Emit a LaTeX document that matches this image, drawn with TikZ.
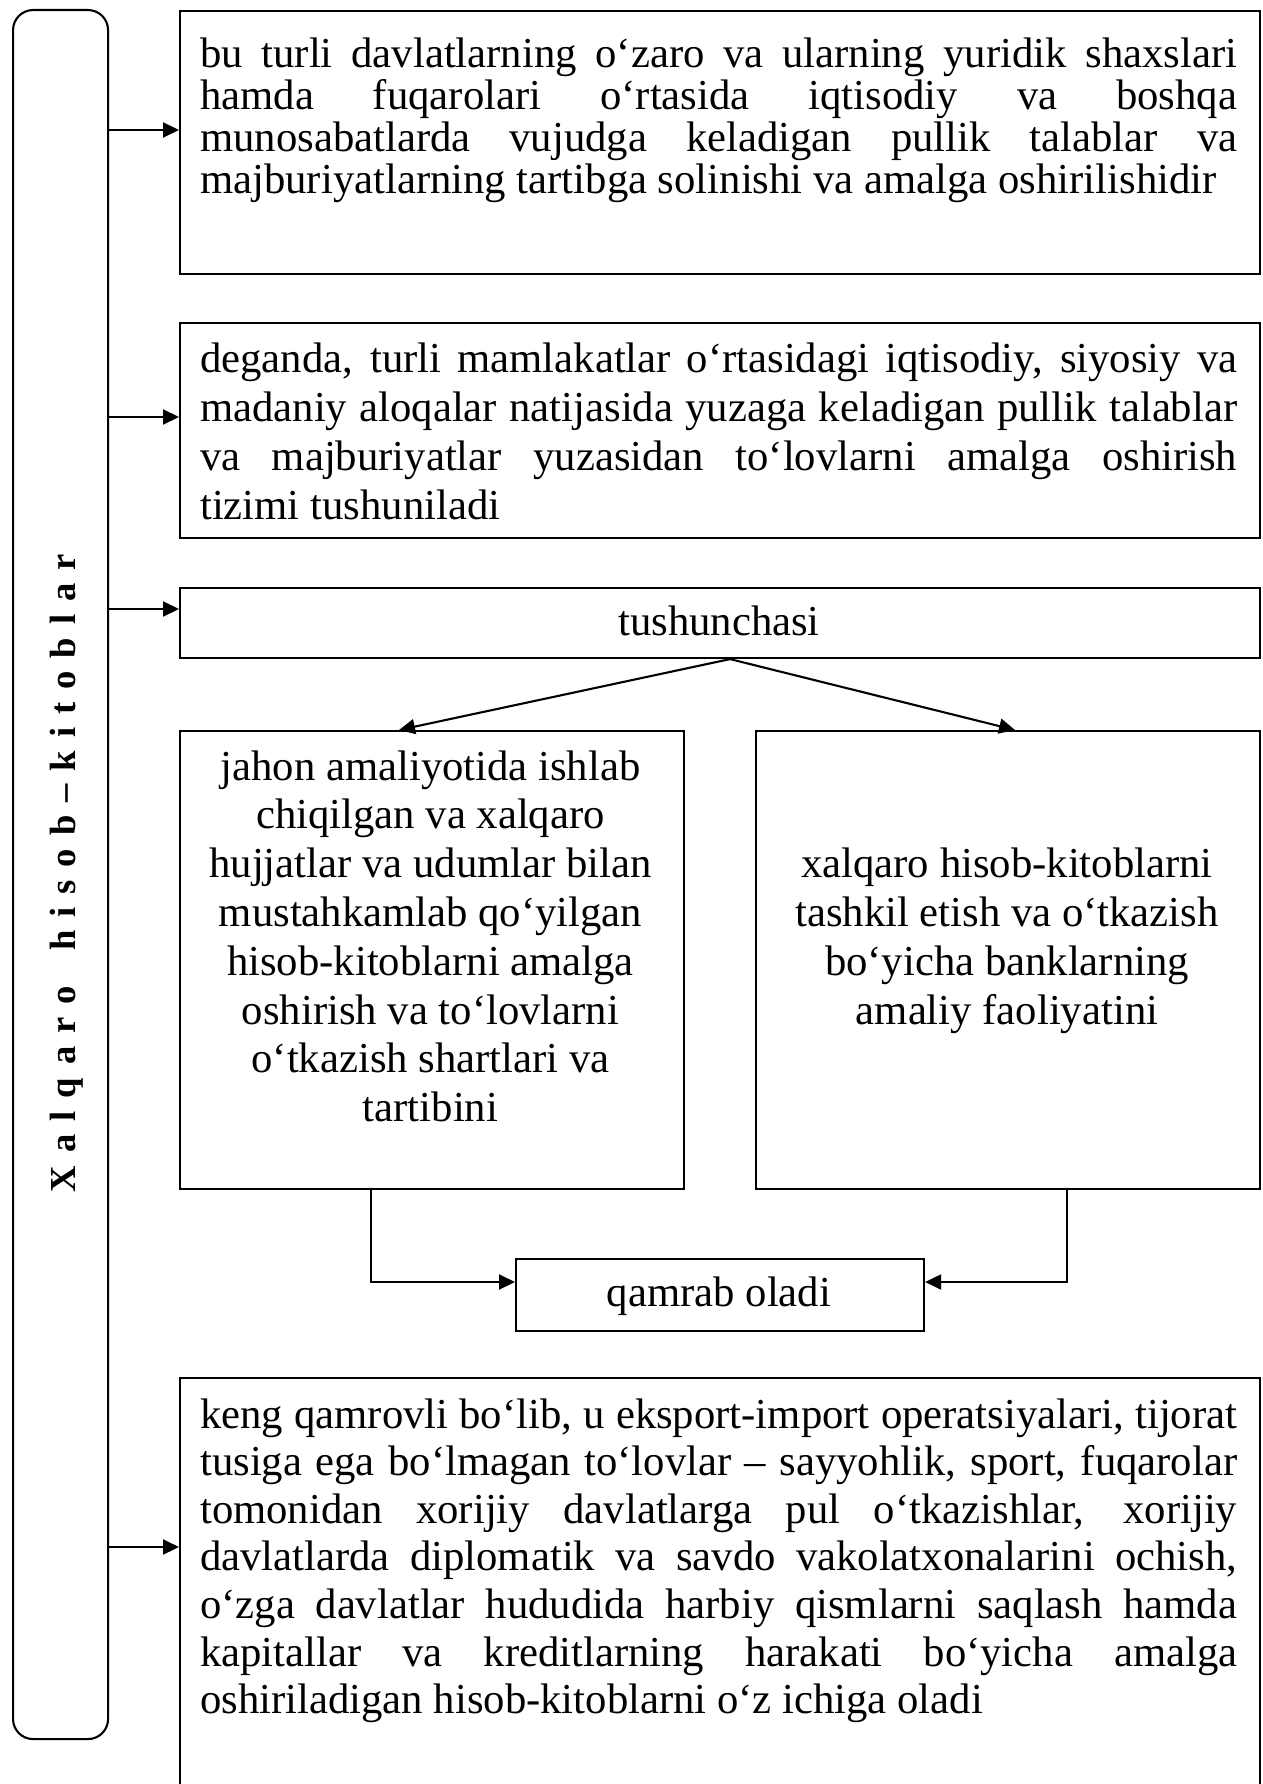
\documentclass[tikz,border=0pt]{standalone}
\usepackage{fontspec}
\setmainfont{Liberation Serif}
\usetikzlibrary{arrows.meta}
\newcommand{\jl}[1]{\makebox[\linewidth][s]{#1}\\}
\newcommand{\ts}{\kern13pt}
\begin{document}
\begin{tikzpicture}[x=1pt,y=-1pt,
  box/.style={draw, line width=2.1pt, rectangle, inner sep=0pt, anchor=north west},
  txt/.style={inner sep=0pt, font=\fontsize{42.7}{48.7}\selectfont},
  conn/.style={line width=2.1pt, -{Triangle[length=16pt,width=15pt]}}]
\useasboundingbox (0,0) rectangle (1262,1784);
\clip (0,0) rectangle (1262,1784);
% boxes
\node[box, rounded corners=20pt, minimum width=95pt, minimum height=1729pt] (main) at (12,9) {};
\node[box, minimum width=1080pt, minimum height=263pt] (b1) at (179,10) {};
\node[box, minimum width=1080pt, minimum height=215pt] (b2) at (179,322) {};
\node[box, minimum width=1080pt, minimum height=70pt] (tb) at (179,587) {};
\node[box, minimum width=504pt, minimum height=458pt] (lb) at (179,730) {};
\node[box, minimum width=504pt, minimum height=458pt] (rb) at (755,730) {};
\node[box, minimum width=408pt, minimum height=72pt] (qb) at (515,1258) {};
\node[box, minimum width=1080pt, minimum height=480pt] (bb) at (179,1377) {};
% title
\node[inner sep=0pt, anchor=base, rotate=90, font=\bfseries\fontsize{36.6}{40}\selectfont] (title) at (75,873)
 {X\ts a\ts l\ts q\ts a\ts r\ts o\ts\ \ts h\ts i\ts s\ts o\ts b\ts –\ts k\ts i\ts t\ts o\ts b\ts l\ts a\ts r};
% texts
\node[txt, anchor=base west] (t1) at (200,68) {\parbox[t]{1037pt}{\fontsize{42.7}{41.7}\selectfont
\jl{bu turli davlatlarning o‘zaro va ularning yuridik shaxslari}
\jl{hamda fuqarolari o‘rtasida iqtisodiy va boshqa}
\jl{munosabatlarda vujudga keladigan pullik talablar va}
majburiyatlarning tartibga solinishi va amalga oshirilishidir}};
\node[txt, anchor=base west] (t2) at (200,372) {\parbox[t]{1037pt}{\fontsize{42.7}{49}\selectfont
\jl{deganda, turli mamlakatlar o‘rtasidagi iqtisodiy, siyosiy va}
\jl{madaniy aloqalar natijasida yuzaga keladigan pullik talablar}
\jl{va majburiyatlar yuzasidan to‘lovlarni amalga oshirish}
tizimi tushuniladi}};
\node[txt, anchor=base] (t3) at (719,635) {tushunchasi};
\node[txt, anchor=base] (t4) at (430.5,780) {\parbox[t]{496pt}{\centering\fontsize{42.7}{48.8}\selectfont
jahon amaliyotida ishlab\\
chiqilgan va xalqaro\\
hujjatlar va udumlar bilan\\
mustahkamlab qo‘yilgan\\
hisob-kitoblarni amalga\\
oshirish va to‘lovlarni\\
o‘tkazish shartlari va\\
tartibini}};
\node[txt, anchor=base] (t5) at (1007,877) {\parbox[t]{496pt}{\centering\fontsize{42.7}{49}\selectfont
xalqaro hisob-kitoblarni\\
tashkil etish va o‘tkazish\\
bo‘yicha banklarning\\
amaliy faoliyatini}};
\node[txt, anchor=base] (t6) at (719,1306) {qamrab oladi};
\node[txt, anchor=base west] (t7) at (200,1428) {\parbox[t]{1037pt}{\fontsize{42.7}{47.6}\selectfont
\jl{keng qamrovli bo‘lib, u eksport-import operatsiyalari, tijorat}
\jl{tusiga ega bo‘lmagan to‘lovlar – sayyohlik, sport, fuqarolar}
\jl{tomonidan xorijiy davlatlarga pul o‘tkazishlar, xorijiy}
\jl{davlatlarda diplomatik va savdo vakolatxonalarini ochish,}
\jl{o‘zga davlatlar hududida harbiy qismlarni saqlash hamda}
\jl{kapitallar va kreditlarning harakati bo‘yicha amalga}
oshiriladigan hisob-kitoblarni o‘z ichiga oladi}};
% helper coordinates
\coordinate (y1) at (0,130);
\coordinate (y2) at (0,417);
\coordinate (y3) at (0,609);
\coordinate (y4) at (0,1547);
\coordinate (ax) at (730,0);
\coordinate (lx) at (399,0);
\coordinate (rx) at (1015,0);
\coordinate (cl) at (371,0);
\coordinate (cr) at (1067,0);
\coordinate (cy) at (0,1282);
% connectors
\draw[conn] (main.east |- y1) -- (b1.west |- y1);
\draw[conn] (main.east |- y2) -- (b2.west |- y2);
\draw[conn] (main.east |- y3) -- (tb.west |- y3);
\draw[conn] (main.east |- y4) -- (bb.west |- y4);
\draw[conn] (tb.south -| ax) -- (lb.north -| lx);
\draw[conn] (tb.south -| ax) -- (rb.north -| rx);
\draw[conn] (lb.south -| cl) |- (qb.west |- cy);
\draw[conn] (rb.south -| cr) |- (qb.east |- cy);
\end{tikzpicture}
\end{document}
